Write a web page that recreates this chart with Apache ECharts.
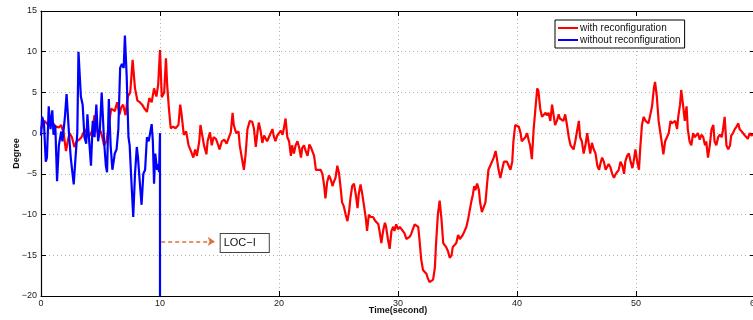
<!DOCTYPE html>
<html>
<head>
<meta charset="utf-8">
<script src="https://cdn.jsdelivr.net/npm/echarts@6/dist/echarts.min.js"></script>
<style>
  html, body { margin: 0; padding: 0; background: #fff; }
  #chart { width: 753px; height: 320px; }
</style>
</head>
<body>
<div id="chart"></div>
<script>
// Pitch response over time, in degrees: [time (s), degree]
const withReconfiguration = [
  [0,0.5],[0.15,1.2],[0.3,1.5],[0.55,1.1],[0.8,1.0],[1.0,1.3],[1.2,0.8],[1.5,0.7],[1.7,1.0],[1.9,0.0],
  [2.1,-2.2],[2.25,-1.0],[2.4,0.0],[2.6,-0.5],[2.8,-1.7],[3.0,-1.0],[3.2,-0.8],[3.4,-0.5],[3.7,0.5],[4.0,-0.5],
  [4.3,0.3],[4.5,2.2],[4.65,0.8],[4.8,-0.2],[5.0,0.3],[5.15,-0.5],[5.3,-1.5],[5.5,-1.0],[5.7,1.0],[5.9,3.0],
  [6.05,2.8],[6.2,2.7],[6.4,3.8],[6.6,2.3],[6.75,3.2],[6.9,3.5],[7.1,2.2],[7.3,4.5],[7.5,5.0],[7.6,7.0],
  [7.7,9.0],[7.8,7.2],[7.9,5.5],[8.1,4.0],[8.3,3.8],[8.5,3.5],[8.7,3.0],[8.9,2.6],[9.1,4.3],[9.3,3.8],
  [9.5,5.5],[9.7,4.5],[9.85,6.0],[10.0,10.2],[10.15,4.4],[10.35,5.0],[10.5,9.2],[10.6,6.0],[10.75,3.0],[10.9,0.6],
  [11.1,0.8],[11.3,0.6],[11.55,1.0],[11.7,3.5],[11.8,2.5],[12.0,-0.2],[12.2,0.2],[12.4,-1.5],[12.6,-2.2],[12.8,-3.0],
  [12.95,-2.0],[13.1,-2.8],[13.3,-1.0],[13.4,1.0],[13.55,0.8],[13.7,-1.5],[13.9,-2.6],[14.0,-1.0],[14.2,0.1],[14.35,-1.5],
  [14.5,-0.5],[14.7,-0.7],[14.9,-1.5],[15.0,-2.0],[15.2,-1.0],[15.4,-0.8],[15.6,-1.3],[15.8,-0.5],[15.95,0.1],[16.1,2.5],
  [16.2,1.0],[16.4,0.0],[16.6,0.2],[16.7,-1.5],[16.85,-2.8],[17.05,-4.5],[17.2,-2.5],[17.35,0.5],[17.55,1.5],[17.75,1.4],
  [17.9,0.5],[18.05,-1.7],[18.2,0.2],[18.3,1.3],[18.45,0.3],[18.6,-1.2],[18.75,-0.3],[18.9,-0.5],[19.0,-1.0],[19.15,-0.5],
  [19.3,-0.7],[19.45,0.5],[19.55,-0.3],[19.7,-1.0],[19.85,-0.3],[20.0,-0.5],[20.15,0.3],[20.3,-0.2],[20.4,0.5],[20.55,1.8],
  [20.7,-0.5],[20.85,-1.0],[21.0,-2.8],[21.1,-1.5],[21.25,-2.5],[21.4,-1.5],[21.55,-1.0],[21.7,-1.8],[21.85,-3.0],[21.95,-1.8],
  [22.1,-1.5],[22.25,-2.2],[22.4,-2.8],[22.55,-1.4],[22.7,-1.8],[22.8,-2.2],[22.95,-2.8],[23.1,-4.5],[23.25,-4.5],[23.5,-4.5],
  [23.65,-5.0],[23.8,-6.5],[23.9,-8.0],[24.05,-6.0],[24.2,-5.2],[24.35,-5.7],[24.5,-6.5],[24.6,-6.0],[24.75,-5.5],[24.9,-4.0],
  [25.05,-5.0],[25.2,-7.0],[25.3,-8.5],[25.45,-9.0],[25.6,-10.0],[25.75,-10.8],[25.9,-9.5],[26.0,-8.0],[26.15,-6.5],[26.3,-6.2],
  [26.45,-7.5],[26.6,-9.2],[26.7,-7.5],[26.85,-6.3],[27.0,-7.5],[27.15,-9.0],[27.3,-10.5],[27.4,-12.0],[27.55,-10.0],[27.7,-10.3],
  [27.9,-10.3],[28.1,-10.8],[28.35,-11.2],[28.5,-12.5],[28.6,-13.5],[28.75,-12.0],[28.9,-11.0],[29.0,-11.5],[29.15,-13.0],[29.3,-14.2],
  [29.45,-12.0],[29.6,-11.5],[29.7,-12.0],[29.85,-11.2],[30.0,-11.8],[30.15,-11.5],[30.3,-11.5],[30.4,-12.0],[30.55,-12.3],[30.7,-13.0],
  [30.85,-12.8],[31.0,-12.7],[31.1,-12.4],[31.25,-12.2],[31.4,-11.2],[31.55,-11.0],[31.7,-11.5],[31.8,-13.0],[31.95,-15.5],[32.1,-16.8],
  [32.4,-17.3],[32.5,-17.8],[32.65,-18.3],[32.8,-18.5],[32.95,-18.0],[33.1,-16.5],[33.2,-13.5],[33.35,-10.0],[33.5,-8.3],[33.65,-10.5],
  [33.8,-13.5],[33.9,-13.5],[34.05,-14.0],[34.2,-14.5],[34.35,-15.3],[34.5,-15.0],[34.6,-14.0],[34.75,-14.0],[34.9,-13.5],[35.05,-12.5],
  [35.2,-13.0],[35.3,-12.8],[35.45,-12.5],[35.6,-12.0],[35.75,-11.5],[35.9,-10.5],[36.0,-10.7],[36.15,-8.5],[36.3,-7.5],[36.4,-6.5],
  [36.5,-7.0],[36.65,-6.2],[36.8,-7.0],[36.9,-8.5],[37.05,-9.7],[37.2,-9.5],[37.35,-8.5],[37.5,-6.0],[37.6,-4.5],[37.75,-4.0],
  [37.9,-3.8],[38.05,-3.0],[38.2,-2.2],[38.3,-3.0],[38.45,-4.5],[38.6,-5.5],[38.75,-4.5],[38.9,-3.5],[39.05,-3.3],[39.15,-3.5],
  [39.3,-3.3],[39.45,-4.5],[39.6,-3.5],[39.7,-1.0],[39.85,1.0],[40.0,1.0],[40.15,0.8],[40.3,0.0],[40.4,-1.0],[40.55,-0.8],
  [40.7,-0.5],[40.85,0.0],[41.0,-1.0],[41.1,-1.5],[41.25,-3.2],[41.4,0.5],[41.55,3.0],[41.7,5.5],[41.8,5.2],[41.95,3.0],
  [42.1,2.0],[42.25,2.2],[42.4,2.5],[42.5,2.2],[42.65,2.5],[42.8,1.5],[42.95,3.5],[43.1,2.0],[43.2,1.0],[43.35,1.5],
  [43.5,2.3],[43.6,1.8],[43.75,2.0],[43.9,1.5],[44.05,2.3],[44.2,1.0],[44.35,-0.5],[44.5,-1.5],[44.6,-1.5],[44.75,-2.0],
  [44.9,-1.0],[45.05,0.3],[45.2,1.5],[45.3,-0.5],[45.45,-1.0],[45.6,-2.5],[45.75,-1.5],[45.9,0.0],[46.05,-1.5],[46.15,-2.5],
  [46.3,-1.2],[46.45,-2.0],[46.6,-2.5],[46.75,-4.0],[46.9,-4.5],[47.0,-3.8],[47.15,-3.0],[47.3,-3.5],[47.45,-4.5],[47.6,-4.5],
  [47.7,-3.8],[47.85,-4.2],[48.0,-5.0],[48.15,-5.5],[48.3,-5.0],[48.4,-5.0],[48.55,-4.5],[48.7,-3.5],[48.85,-4.0],[49.0,-5.0],
  [49.1,-3.5],[49.25,-2.8],[49.4,-2.5],[49.55,-3.5],[49.7,-4.3],[49.8,-3.5],[49.95,-2.0],[50.1,-3.5],[50.25,-4.5],[50.35,-2.0],
  [50.5,1.0],[50.65,2.0],[50.8,1.5],[50.9,1.3],[51.05,1.2],[51.2,1.3],[51.35,3.3],[51.5,5.5],[51.6,6.3],[51.75,4.5],
  [51.9,1.5],[52.05,0.0],[52.2,-1.5],[52.3,-2.6],[52.45,-1.0],[52.6,-0.5],[52.75,0.0],[52.9,1.5],[53.0,1.2],[53.15,1.0],
  [53.3,1.5],[53.45,0.5],[53.55,2.0],[53.7,3.5],[53.8,5.3],[53.95,3.5],[54.1,1.5],[54.25,3.3],[54.35,0.5],[54.5,-1.0],
  [54.65,-1.5],[54.8,0.0],[54.95,-0.5],[55.1,-0.5],[55.2,0.0],[55.35,-0.8],[55.5,-0.2],[55.65,-0.5],[55.8,-1.5],[55.9,-1.0],
  [56.05,-3.0],[56.2,-1.5],[56.35,0.5],[56.5,1.0],[56.6,-1.0],[56.75,-1.5],[56.9,-0.5],[57.05,-0.2],[57.2,-0.5],[57.3,0.3],
  [57.45,2.0],[57.6,-1.5],[57.75,-2.0],[57.9,-1.5],[58.0,-0.3],[58.15,0.0],[58.3,0.5],[58.45,0.8],[58.6,1.2],[58.7,0.5],
  [58.85,0.5],[59.0,0.0],[59.15,-0.3],[59.3,-0.2],[59.4,-0.7],[59.55,0.0],[59.7,-0.3],[60.0,0.0]
];

// Without reconfiguration the response diverges and control is lost at t = 10 s
const withoutReconfiguration = [
  [0,-0.3],[0.1,2.0],[0.25,1.2],[0.4,-3.5],[0.5,-3.0],[0.65,3.3],[0.8,0.5],[0.95,2.8],[1.05,-0.2],[1.2,1.0],
  [1.35,-5.9],[1.5,-1.5],[1.7,0.2],[1.8,-1.0],[2.0,1.8],[2.15,4.8],[2.35,0.0],[2.5,-3.0],[2.65,-5.0],[2.75,-6.3],
  [2.9,-3.0],[3.05,0.0],[3.15,10.0],[3.35,4.5],[3.5,3.5],[3.65,-0.5],[3.8,-1.3],[3.9,2.3],[4.05,-1.0],[4.2,-4.0],
  [4.35,1.5],[4.5,-0.5],[4.65,3.5],[4.8,-1.0],[4.95,0.5],[5.1,5.0],[5.3,-1.0],[5.45,-4.0],[5.55,-4.8],[5.7,4.2],
  [5.85,-1.5],[6.0,-4.5],[6.2,-2.5],[6.35,-2.0],[6.5,0.5],[6.65,8.0],[6.8,8.5],[6.95,8.0],[7.05,12.0],[7.2,7.0],
  [7.35,-0.5],[7.45,-1.5],[7.6,-6.0],[7.75,-10.3],[7.9,-5.0],[8.05,-1.7],[8.15,-3.0],[8.3,-6.0],[8.45,-8.8],[8.6,-5.0],
  [8.75,-4.5],[8.9,-0.5],[9.05,-1.0],[9.15,-0.8],[9.3,1.1],[9.4,-1.0],[9.5,-6.2],[9.6,-2.5],[9.75,-4.5],[9.85,-3.8],
  [9.92,-4.8],[10.0,0.0],[10.0,-20]
];

// LOC-I annotation: arrow start/end and label anchor, in axis units
const locArrow = [[10.1, -13.3], [14.6, -13.3]];
const locLabelAt = [15.1, -13.5];

const xTicks = { min: 0, max: 60, interval: 10 };
const yTicks = { min: -20, max: 15, interval: 5 };

const font = '"Liberation Sans", Arial, Helvetica, sans-serif';
const chart = echarts.init(document.getElementById('chart'), null, { renderer: 'canvas' });

const gridLine = { show: true, lineStyle: { color: '#b0b0b0', type: [1, 3], width: 1 } };

chart.setOption({
  animation: false,
  backgroundColor: '#fff',
  grid: { left: 41, right: -2, top: 11, bottom: 24, containLabel: false, outerBoundsMode: 'none' },
  legend: {
    left: 555, top: 20, orient: 'vertical',
    backgroundColor: '#fff', borderColor: '#000', borderWidth: 1, borderRadius: 0,
    padding: [3, 4, 3, 3], itemGap: 2, itemWidth: 20, itemHeight: 2, icon: 'rect',
    textStyle: { fontFamily: font, fontSize: 10, color: '#111', padding: [0, 0, 0, -3] },
    data: ['with reconfiguration', 'without reconfiguration']
  },
  xAxis: [
    {
      type: 'value', position: 'bottom', ...xTicks,
      name: 'Time(second)', nameLocation: 'middle', nameGap: 10, nameMoveOverlap: false,
      nameTextStyle: { fontFamily: font, fontSize: 9, fontWeight: 'bold', color: '#111' },
      axisLine: { show: true, onZero: false, lineStyle: { color: '#000', width: 1.2 } },
      axisTick: { show: true, inside: true, length: 5, lineStyle: { color: '#000' } },
      axisLabel: { fontFamily: font, fontSize: 9, color: '#222', margin: 3 },
      splitLine: gridLine
    },
    {
      type: 'value', position: 'top', ...xTicks,
      axisLine: { show: true, onZero: false, lineStyle: { color: '#000', width: 1.2 } },
      axisTick: { show: true, inside: true, length: 5, lineStyle: { color: '#000' } },
      axisLabel: { show: false }, splitLine: { show: false }
    }
  ],
  yAxis: [
    {
      type: 'value', position: 'left', ...yTicks,
      name: 'Degree', nameLocation: 'middle', nameGap: 20, nameRotate: 90, nameMoveOverlap: false,
      nameTextStyle: { fontFamily: font, fontSize: 9, fontWeight: 'bold', color: '#111' },
      axisLine: { show: true, onZero: false, lineStyle: { color: '#000', width: 1.2 } },
      axisTick: { show: true, inside: true, length: 5, lineStyle: { color: '#000' } },
      axisLabel: {
        fontFamily: font, fontSize: 9, color: '#222', margin: 4,
        formatter: v => (v < 0 ? '\u2212' + Math.abs(v) : String(v))
      },
      splitLine: gridLine
    },
    {
      type: 'value', position: 'right', ...yTicks,
      axisLine: { show: true, onZero: false, lineStyle: { color: '#000', width: 1.2 } },
      axisTick: { show: true, inside: true, length: 5, lineStyle: { color: '#000' } },
      axisLabel: { show: false }, splitLine: { show: false }
    }
  ],
  series: [
    {
      name: 'with reconfiguration', type: 'line', data: withReconfiguration,
      showSymbol: false, smooth: false, z: 3,
      lineStyle: { color: '#ff0000', width: 2.2 }, itemStyle: { color: '#ff0000' }
    },
    {
      name: 'without reconfiguration', type: 'line', data: withoutReconfiguration,
      showSymbol: false, smooth: false, z: 4,
      lineStyle: { color: '#0000ff', width: 2.2 }, itemStyle: { color: '#0000ff' },
      markLine: {
        silent: true, animation: false,
        symbol: ['none', 'arrow'], symbolSize: [7, 7],
        lineStyle: { color: '#e0703a', type: [4, 3], width: 1.5 },
        label: { show: false },
        data: [[{ coord: locArrow[0] }, { coord: locArrow[1] }]]
      },
      markPoint: {
        silent: true, animation: false,
        symbol: 'rect', symbolSize: 0,
        data: [{ coord: locLabelAt }],
        label: {
          show: true, position: 'right', distance: 0,
          formatter: 'LOC\u2212I',
          fontFamily: font, fontSize: 11, color: '#111',
          backgroundColor: '#fff', borderColor: '#444', borderWidth: 1,
          padding: [4, 13, 3, 3]
        }
      }
    }
  ]
});
</script>
</body>
</html>
